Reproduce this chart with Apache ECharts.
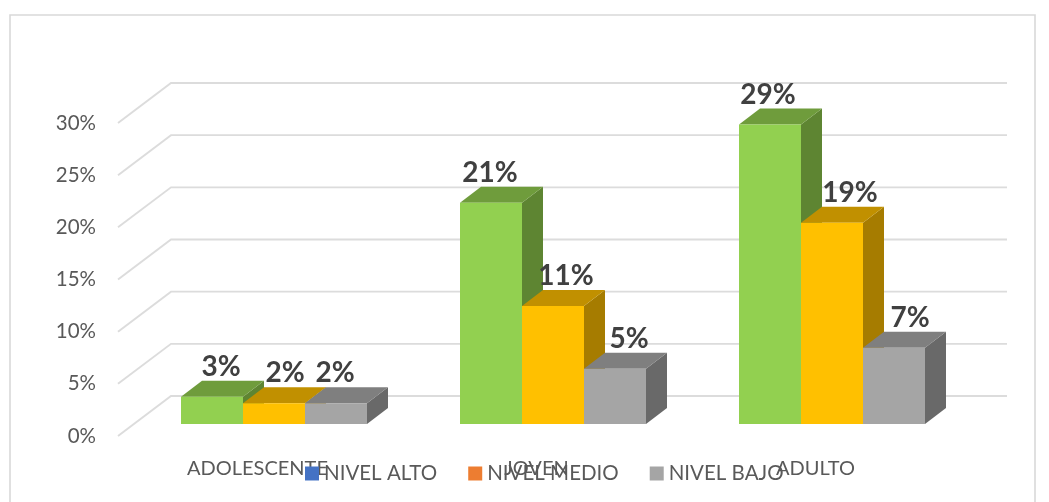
<!DOCTYPE html>
<html><head><meta charset="utf-8">
<style>html,body{margin:0;padding:0;background:#fff}#c{width:1049px;height:502px}</style>
<script src="https://cdn.jsdelivr.net/npm/echarts@6/dist/echarts.min.js"></script>
</head><body><div id="c"></div>
<script>
const categories = ['ADOLESCENTE', 'JOVEN', 'ADULTO'];
const seriesNames = ['NIVEL ALTO', 'NIVEL MEDIO', 'NIVEL BAJO'];
const nivelAlto = [2.6, 21.2, 28.7];
const nivelMedio = [2.0, 11.3, 19.3];
const nivelBajo = [2.0, 5.3, 7.3];
const yTicks = [0, 5, 10, 15, 20, 25, 30];

const values = [nivelAlto, nivelMedio, nivelBajo];
const legendColors = ['#4472C4', '#ED7D31', '#A5A5A5'];
const faceColors = [
  {front: '#92D050', top: '#6F9C3C', side: '#5E8532'},
  {front: '#FFC000', top: '#C19000', side: '#A67C00'},
  {front: '#A5A5A5', top: '#7F7F7F', side: '#696969'}
];
const labelNudge = [[9, -1, -2], [11, 13, 18], [-1, 14, 16]];
const WALL = {dx: 53, dy: -40};
const BAR_PLANE = {dx: 16.5, dy: -12};
const BAR_DEPTH = {dx: 21, dy: -16};

function wallItem(params, api) {
  const p = api.coord([0, api.value(0)]);
  const band = api.size([1, 0])[0];
  const x0 = p[0] - band / 2, y0 = p[1];
  const x1 = x0 + band * categories.length + WALL.dx - 1;
  return {type: 'polyline', z2: 0, shape: {points: [
    [x0, y0], [x0 + WALL.dx, y0 + WALL.dy], [x1, y0 + WALL.dy]
  ]}, style: {stroke: '#DCDCDC', lineWidth: 1.9, fill: 'none'}};
}

function barItem(si) {
  return function (params, api) {
    const idx = api.value(0), val = api.value(1);
    const band = api.size([1, 0])[0];
    const bw = band / 4.5;
    const base = api.coord([idx, 0]), top = api.coord([idx, val]);
    const x0 = base[0] + BAR_PLANE.dx + (si - 1.5) * bw, x1 = x0 + bw;
    const yb = base[1] + BAR_PLANE.dy, yt = top[1] + BAR_PLANE.dy;
    const dx = BAR_DEPTH.dx, dy = BAR_DEPTH.dy;
    const c = faceColors[si], z = (si + 1) * 10;
    const poly = (pts, fill) => ({type: 'polygon', z2: z, shape: {points: pts}, style: {fill}});
    return {type: 'group', children: [
      poly([[x1, yb], [x1 + dx, yb + dy], [x1 + dx, yt + dy], [x1, yt]], c.side),
      poly([[x0, yt], [x1, yt], [x1 + dx, yt + dy], [x0 + dx, yt + dy]], c.top),
      poly([[x0, yb], [x1, yb], [x1, yt], [x0, yt]], c.front),
      {type: 'text', z2: 100, style: {
        x: (x0 + x1) / 2 + labelNudge[si][idx], y: yt - 30,
        text: Math.round(val) + '%', align: 'center', verticalAlign: 'middle',
        font: 'bold 28px Lato', fill: '#404040'
      }}
    ]};
  };
}

const chart = echarts.init(document.getElementById('c'), null, {renderer: 'canvas'});
chart.setOption({
  animation: false,
  backgroundColor: '#fff',
  graphic: [{type: 'rect', z: -10, shape: {x: 10, y: 15, width: 1025, height: 500},
    style: {fill: 'none', stroke: '#D9D9D9', lineWidth: 1.6}, silent: true}],
  grid: {left: 118, top: 123, width: 837, height: 313},
  legend: {
    data: seriesNames, left: 300, top: 458, itemWidth: 14, itemHeight: 14, itemGap: 31,
    icon: 'rect', textStyle: {fontFamily: 'Lato', fontSize: 20.5, color: '#595959'}
  },
  xAxis: {type: 'category', data: categories,
    axisLine: {show: false}, axisTick: {show: false}, splitLine: {show: false},
    axisLabel: {fontFamily: 'Lato', fontSize: 20, color: '#595959', margin: 23}},
  yAxis: {type: 'value', min: 0, max: 30, interval: 5,
    axisLine: {show: false}, axisTick: {show: false}, splitLine: {show: false},
    axisLabel: {fontFamily: 'Lato', fontSize: 20.5, color: '#595959', margin: 22, padding: [6, 0, 0, 0], formatter: '{value}%'}},
  series: [
    {type: 'custom', name: 'walls', silent: true, coordinateSystem: 'cartesian2d',
     renderItem: wallItem, encode: {x: 1, y: 0},
     data: yTicks.map(t => [t, 0])}
  ].concat(seriesNames.map((n, si) => ({
    type: 'custom', name: n, coordinateSystem: 'cartesian2d',
    itemStyle: {color: legendColors[si]},
    renderItem: barItem(si), encode: {x: 0, y: 1},
    data: values[si].map((v, i) => [i, v])
  })))
});
</script></body></html>
